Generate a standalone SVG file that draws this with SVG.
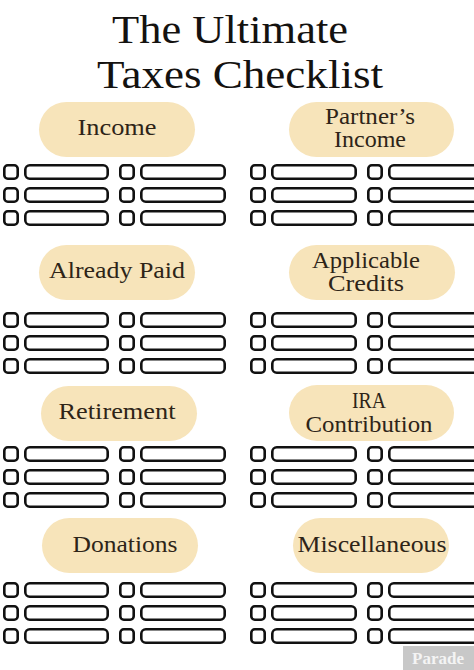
<svg xmlns="http://www.w3.org/2000/svg" xmlns:xlink="http://www.w3.org/1999/xlink" width="474" height="670" viewBox="0 0 474 670">
<style>
.title{font-family:"Liberation Serif","DejaVu Serif",serif;font-size:40px;fill:#141210;text-anchor:middle;}
.pill{fill:#f7e4ba;}
.lbl{font-family:"Liberation Serif","DejaVu Serif",serif;font-size:23px;fill:#2e2418;text-anchor:middle;}
.box{fill:#fff;stroke:#111;stroke-width:2.6;}
.wm{font-family:"Liberation Serif",serif;font-size:17px;font-weight:bold;fill:#f4f4f4;text-anchor:middle;}
</style>
<defs>
<g id="row">
<rect class="box" x="4.3" y="1.3" width="13.4" height="13.4" rx="3.5"/>
<rect class="box" x="25.3" y="1.3" width="82.4" height="13.4" rx="4.5"/>
<rect class="box" x="120.3" y="1.3" width="13.4" height="13.4" rx="3.5"/>
<rect class="box" x="141.3" y="1.3" width="83.4" height="13.4" rx="4.5"/>
<rect class="box" x="251.3" y="1.3" width="13.4" height="13.4" rx="3.5"/>
<rect class="box" x="272.3" y="1.3" width="83.4" height="13.4" rx="4.5"/>
<rect class="box" x="368.3" y="1.3" width="13.4" height="13.4" rx="3.5"/>
<rect class="box" x="389.3" y="1.3" width="90" height="13.4" rx="4.5"/>
</g>
</defs>
<rect width="474" height="670" fill="#fff"/>
<g id="title">
<text class="title" x="230" y="43" textLength="236" lengthAdjust="spacingAndGlyphs">The Ultimate</text>
<text class="title" x="240" y="88" textLength="286" lengthAdjust="spacingAndGlyphs">Taxes Checklist</text>
</g>
<g id="income">
<rect class="pill" x="39" y="102" width="156" height="55" rx="27.5"/>
<text class="lbl" x="117" y="135" textLength="79" lengthAdjust="spacingAndGlyphs">Income</text>
</g>
<g id="partners-income">
<rect class="pill" x="289" y="102" width="165" height="55" rx="27.5"/>
<text class="lbl" x="370" y="124" font-size="21" textLength="90" lengthAdjust="spacingAndGlyphs">Partner’s</text>
<text class="lbl" x="370" y="147" font-size="21" textLength="72" lengthAdjust="spacingAndGlyphs">Income</text>
</g>
<g id="checklist-1">
<use xlink:href="#row" y="164"/>
<use xlink:href="#row" y="187"/>
<use xlink:href="#row" y="210"/>
</g>
<g id="already-paid">
<rect class="pill" x="39" y="245" width="156" height="55" rx="27.5"/>
<text class="lbl" x="117" y="278" textLength="136" lengthAdjust="spacingAndGlyphs">Already Paid</text>
</g>
<g id="applicable-credits">
<rect class="pill" x="289" y="245" width="166" height="55" rx="27.5"/>
<text class="lbl" x="366" y="268" font-size="22" textLength="108" lengthAdjust="spacingAndGlyphs">Applicable</text>
<text class="lbl" x="366" y="291" font-size="22" textLength="76" lengthAdjust="spacingAndGlyphs">Credits</text>
</g>
<g id="checklist-2">
<use xlink:href="#row" y="312"/>
<use xlink:href="#row" y="335"/>
<use xlink:href="#row" y="358"/>
</g>
<g id="retirement">
<rect class="pill" x="41" y="386" width="156" height="55" rx="27.5"/>
<text class="lbl" x="117" y="419" textLength="117" lengthAdjust="spacingAndGlyphs">Retirement</text>
</g>
<g id="ira-contribution">
<rect class="pill" x="289" y="385" width="165" height="56" rx="28"/>
<text class="lbl" x="369" y="408" font-size="22" textLength="34" lengthAdjust="spacingAndGlyphs">IRA</text>
<text class="lbl" x="369" y="432" font-size="22" textLength="127" lengthAdjust="spacingAndGlyphs">Contribution</text>
</g>
<g id="checklist-3">
<use xlink:href="#row" y="446"/>
<use xlink:href="#row" y="469"/>
<use xlink:href="#row" y="492"/>
</g>
<g id="donations">
<rect class="pill" x="42" y="518" width="156" height="55" rx="27.5"/>
<text class="lbl" x="125" y="552" textLength="105" lengthAdjust="spacingAndGlyphs">Donations</text>
</g>
<g id="miscellaneous">
<rect class="pill" x="293" y="518" width="156" height="55" rx="27.5"/>
<text class="lbl" x="372" y="552" textLength="149" lengthAdjust="spacingAndGlyphs">Miscellaneous</text>
</g>
<g id="checklist-4">
<use xlink:href="#row" y="582"/>
<use xlink:href="#row" y="605"/>
<use xlink:href="#row" y="628"/>
</g>
<g id="watermark">
<rect x="403" y="646" width="71" height="24" fill="#c8c8c8"/>
<text class="wm" x="438" y="664">Parade</text>
</g>
<g id="connectors"/>
</svg>
